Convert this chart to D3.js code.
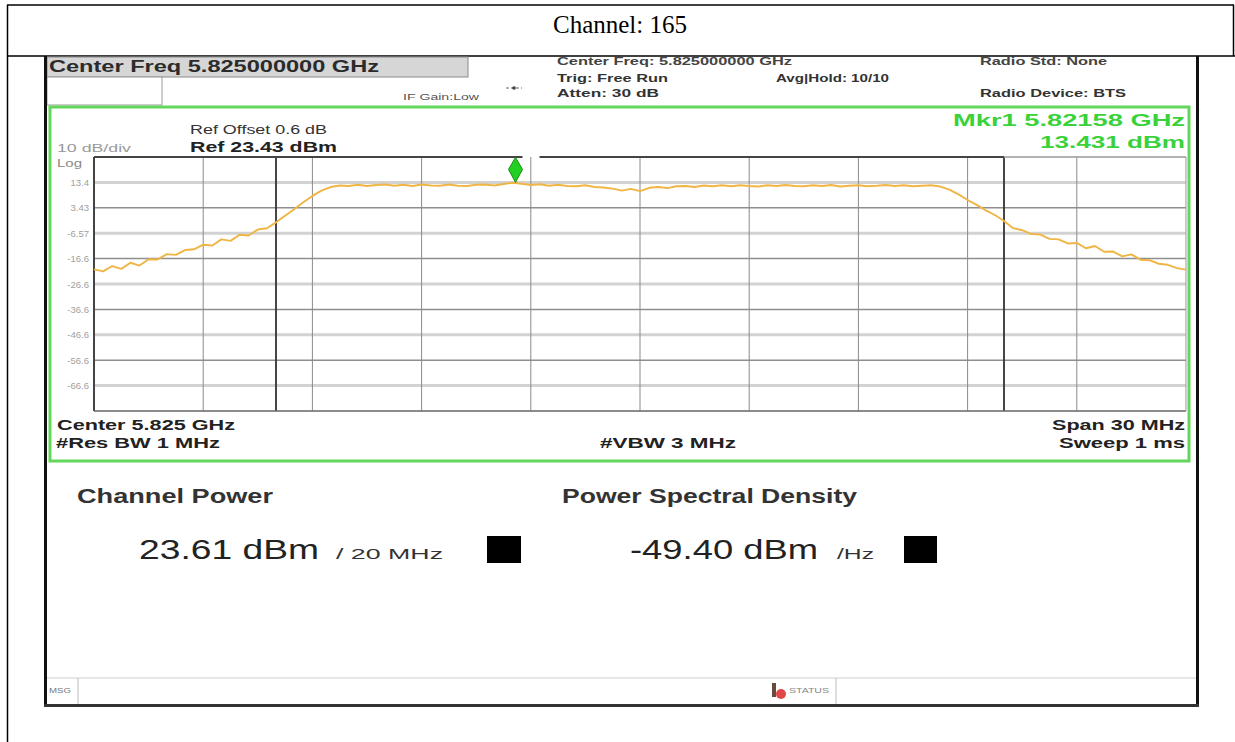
<!DOCTYPE html>
<html>
<head>
<meta charset="utf-8">
<script src="https://cdn.jsdelivr.net/npm/d3@7"></script>
<style>
  body { margin: 0; background: #fff; }
  svg { display: block; }
  .scr text { font-family: "Liberation Sans", Arial, sans-serif; }
</style>
</head>
<body>
<script>
// Spectrum sweep, channel 165 (offset MHz from 5.810 GHz start, level dBm)
var startFreqGHz = 5.810;
var stopFreqGHz = 5.840;

var traceOffsetMHz = [
  0, 0.25, 0.5, 0.75, 1, 1.25, 1.5, 1.75, 2, 2.25, 2.5, 2.75, 3, 3.25, 3.5, 3.75,
  4, 4.25, 4.5, 4.75, 5, 5.25, 5.5, 5.75, 6, 6.25, 6.5, 6.75, 7, 7.25, 7.5, 7.75,
  8, 8.25, 8.5, 8.75, 9, 9.25, 9.5, 9.75, 10, 10.25, 10.5, 10.75, 11, 11.25, 11.5, 11.75,
  12, 12.25, 12.5, 12.75, 13, 13.25, 13.5, 13.75, 14, 14.25, 14.5, 14.75, 15, 15.25, 15.5, 15.75,
  16, 16.25, 16.5, 16.75, 17, 17.25, 17.5, 17.75, 18, 18.25, 18.5, 18.75, 19, 19.25, 19.5, 19.75,
  20, 20.25, 20.5, 20.75, 21, 21.25, 21.5, 21.75, 22, 22.25, 22.5, 22.75, 23, 23.25, 23.5, 23.75,
  24, 24.25, 24.5, 24.75, 25, 25.25, 25.5, 25.75, 26, 26.25, 26.5, 26.75, 27, 27.25, 27.5, 27.75,
  28, 28.25, 28.5, 28.75, 29, 29.25, 29.5, 29.75, 30
];

var traceDbm = [
  -20.8, -21.6, -19.5, -20.6, -18.2, -19.3, -16.8, -16.9, -14.8, -15.1, -13.2, -12.9, -11.1, -11.4, -9.0, -9.6,
  -7.2, -7.5, -5.1, -4.6, -2.3, 0.3, 2.9, 5.6, 8.1, 10.2, 11.6, 12.2, 12.0, 12.5, 12.0, 12.4,
  12.6, 12.1, 12.5, 12.0, 12.6, 12.2, 12.1, 12.6, 12.1, 12.0, 12.5, 12.6, 12.2, 12.8, 13.3, 12.9,
  12.4, 12.7, 12.1, 12.5, 12.0, 11.9, 12.3, 11.6, 11.4, 11.0, 10.2, 10.9, 10.0, 11.3, 11.6, 11.2,
  11.9, 12.0, 11.6, 12.2, 11.9, 12.3, 11.9, 12.3, 12.0, 11.8, 12.3, 12.0, 12.4, 12.0, 11.9, 12.3,
  12.0, 12.4, 11.8, 12.1, 12.3, 11.9, 12.1, 12.4, 12.0, 12.3, 11.9, 12.1, 12.3, 11.8, 10.6, 8.7,
  6.5, 4.6, 2.4, 0.6, -1.8, -4.6, -5.4, -6.9, -7.1, -8.8, -9.0, -10.6, -10.4, -12.5, -11.6, -13.9,
  -13.8, -15.7, -14.9, -17.0, -17.2, -18.6, -19.0, -20.3, -20.9
];

var refLevel = 23.43;
var dbPerDiv = 10;
var yTickLabels = ["13.4", "3.43", "-6.57", "-16.6", "-26.6", "-36.6", "-46.6", "-56.6", "-66.6"];
var markerFreqGHz = 5.82158;
var markerDbm = 13.431;
var integBandGHz = [5.815, 5.835];

var W = 1235, H = 742;
var plot = {left: 94, right: 1186, top: 157, bottom: 411};

var svg = d3.select("body").append("svg")
    .attr("width", W)
    .attr("height", H);

// document table frame
svg.append("rect").attr("width", W).attr("height", H).attr("fill", "#fff");
var frame = svg.append("g").attr("stroke", "#000").attr("stroke-width", 1.5);
frame.append("line").attr("x1", 7).attr("x2", 1234).attr("y1", 5).attr("y2", 5);
frame.append("line").attr("x1", 7).attr("x2", W).attr("y1", 56).attr("y2", 56);
frame.append("line").attr("x1", 7.5).attr("x2", 7.5).attr("y1", 5).attr("y2", H);
frame.append("line").attr("x1", 1233.5).attr("x2", 1233.5).attr("y1", 5).attr("y2", 56);

svg.append("text")
    .attr("x", 620).attr("y", 33)
    .attr("text-anchor", "middle")
    .style("font-family", "'Liberation Serif', 'Times New Roman', serif")
    .style("font-size", "25px")
    .text("Channel: 165");

// analyzer screenshot
var scr = svg.append("g").attr("class", "scr");

function label(s, x, y, size, opts) {
    opts = opts || {};
    var t = scr.append("text")
        .attr("x", x).attr("y", y)
        .attr("text-anchor", opts.anchor || "start")
        .style("font-size", size + "px")
        .style("font-weight", opts.bold ? "bold" : "normal")
        .attr("fill", opts.color || "#222")
        .text(s);
    if (opts.len) t.attr("textLength", opts.len).attr("lengthAdjust", "spacingAndGlyphs");
    return t;
}

// header bar
scr.append("rect").attr("x", 47).attr("y", 57).attr("width", 421).attr("height", 20)
    .attr("fill", "#d6d6d6").attr("stroke", "#8a8a8a").attr("stroke-width", 1);
label("Center Freq 5.825000000 GHz", 49, 72, 16, {bold: true, color: "#2b2b2b", len: 330});
scr.append("rect").attr("x", 47).attr("y", 77).attr("width", 115).attr("height", 28)
    .attr("fill", "#fff").attr("stroke", "#9a9a9a").attr("stroke-width", 1);
label("IF Gain:Low", 403, 100, 9, {color: "#555", len: 76});
scr.append("line").attr("x1", 506).attr("x2", 522).attr("y1", 88).attr("y2", 88)
    .attr("stroke", "#666").attr("stroke-width", 1).attr("stroke-dasharray", "3,2");
scr.append("circle").attr("cx", 514).attr("cy", 88).attr("r", 1.8).attr("fill", "#444");

label("Center Freq: 5.825000000 GHz", 557, 65, 10.5, {bold: true, color: "#444", len: 235});
label("Trig: Free Run", 557, 82, 11, {bold: true, color: "#333", len: 111});
label("Atten: 30 dB", 557, 97, 11, {bold: true, color: "#333", len: 102});
label("Avg|Hold: 10/10", 776, 82, 11, {bold: true, color: "#333", len: 113});
label("Radio Std: None", 980, 65, 11, {bold: true, color: "#444", len: 127});
label("Radio Device: BTS", 980, 97, 11, {bold: true, color: "#333", len: 146});

// green measurement window
scr.append("rect").attr("x", 50).attr("y", 107).attr("width", 1139).attr("height", 354)
    .attr("fill", "none").attr("stroke", "#62d85a").attr("stroke-width", 3);

label("10 dB/div", 57, 152, 10, {color: "#999", len: 74});
label("Log", 57, 167, 11, {color: "#888", len: 25});
label("Ref Offset 0.6 dB", 190, 134, 12, {color: "#333", len: 137});
label("Ref 23.43 dBm", 190, 152, 14, {bold: true, color: "#222", len: 147});
label("Mkr1  5.82158 GHz", 1185, 126, 17, {bold: true, color: "#3ad23a", anchor: "end", len: 232});
label("13.431 dBm", 1185, 148, 17, {bold: true, color: "#3ad23a", anchor: "end", len: 145});

// scales
var x = d3.scaleLinear().domain([startFreqGHz, stopFreqGHz]).range([plot.left, plot.right]);
var y = d3.scaleLinear().domain([refLevel - 10 * dbPerDiv, refLevel]).range([plot.bottom, plot.top]);

var hLevels = d3.range(1, 10).map(function(k) { return refLevel - k * dbPerDiv; });
var vFreqs = d3.range(1, 10).map(function(k) { return startFreqGHz + k * (stopFreqGHz - startFreqGHz) / 10; });

// graticule
scr.append("g").selectAll("line")
    .data(hLevels)
    .enter().append("line")
    .attr("x1", plot.left).attr("x2", plot.right)
    .attr("y1", d => y(d)).attr("y2", d => y(d))
    .attr("stroke", (d, i) => i % 2 === 0 ? "#d2d2d2" : "#8e8e8e")
    .attr("stroke-width", (d, i) => i % 2 === 0 ? 3 : 1.5);

scr.append("g").selectAll("line")
    .data(vFreqs)
    .enter().append("line")
    .attr("x1", d => x(d)).attr("x2", d => x(d))
    .attr("y1", plot.top).attr("y2", plot.bottom)
    .attr("stroke", "#8a8a8a").attr("stroke-width", 1);

// integration bandwidth lines
scr.append("g").selectAll("line")
    .data(integBandGHz)
    .enter().append("line")
    .attr("x1", d => x(d)).attr("x2", d => x(d))
    .attr("y1", plot.top).attr("y2", plot.bottom)
    .attr("stroke", "#333").attr("stroke-width", 1.8);

// plot border
var mx = x(markerFreqGHz);
scr.append("line").attr("x1", plot.left).attr("x2", mx + 7).attr("y1", plot.top).attr("y2", plot.top)
    .attr("stroke", "#444").attr("stroke-width", 2);
scr.append("line").attr("x1", mx + 24).attr("x2", x(integBandGHz[1])).attr("y1", plot.top).attr("y2", plot.top)
    .attr("stroke", "#444").attr("stroke-width", 2);
scr.append("line").attr("x1", x(integBandGHz[1])).attr("x2", plot.right).attr("y1", plot.top).attr("y2", plot.top)
    .attr("stroke", "#999").attr("stroke-width", 1.5);
scr.append("line").attr("x1", plot.left).attr("x2", plot.left).attr("y1", plot.top).attr("y2", plot.bottom)
    .attr("stroke", "#444").attr("stroke-width", 2);
scr.append("line").attr("x1", plot.left).attr("x2", plot.right).attr("y1", plot.bottom).attr("y2", plot.bottom)
    .attr("stroke", "#666").attr("stroke-width", 1.5);
scr.append("line").attr("x1", plot.right).attr("x2", plot.right).attr("y1", plot.top).attr("y2", plot.bottom)
    .attr("stroke", "#999").attr("stroke-width", 1);

// y tick labels
var yAxis = scr.append("g")
    .attr("transform", "translate(" + (plot.left - 5) + ",0)")
    .call(d3.axisLeft(y).tickValues(hLevels).tickSize(0).tickPadding(0)
        .tickFormat((d, i) => yTickLabels[i]));
yAxis.select(".domain").remove();
yAxis.selectAll("text")
    .style("font-family", "'Liberation Sans', Arial, sans-serif")
    .style("font-size", "9.5px")
    .attr("fill", "#a0a0a0");

// trace
var traceData = traceOffsetMHz.map((o, i) => ({f: startFreqGHz + o / 1000, v: traceDbm[i]}));
var line = d3.line()
    .x(d => x(d.f))
    .y(d => y(d.v));

scr.append("path")
    .datum(traceData)
    .attr("d", line)
    .attr("fill", "none")
    .attr("stroke", "#f0b545")
    .attr("stroke-width", 1.9)
    .attr("stroke-linejoin", "round");

// marker diamond
var my = y(markerDbm);
scr.append("path")
    .attr("d", "M" + mx + "," + my + " L" + (mx - 7) + "," + (my - 13) + " L" + mx + "," + (my - 25) +
        " L" + (mx + 7) + "," + (my - 13) + "Z")
    .attr("fill", "#22d022").attr("stroke", "#139013").attr("stroke-width", 1);

// window footer
label("Center  5.825 GHz", 57, 430, 14, {bold: true, color: "#222", len: 178});
label("#Res BW  1 MHz", 56, 448, 14, {bold: true, color: "#222", len: 164});
label("#VBW  3 MHz", 600, 448, 14, {bold: true, color: "#222", len: 136});
label("Span 30 MHz", 1185, 430, 14, {bold: true, color: "#222", anchor: "end", len: 133});
label("Sweep  1 ms", 1185, 448, 14, {bold: true, color: "#222", anchor: "end", len: 126});

// channel power results
label("Channel Power", 77, 503, 20, {bold: true, color: "#333", len: 196});
label("23.61 dBm", 139, 559, 27, {color: "#222", len: 180});
label("/ 20 MHz", 336, 559, 15, {color: "#333", len: 107});
scr.append("rect").attr("x", 487).attr("y", 536).attr("width", 34).attr("height", 27).attr("fill", "#000");

label("Power Spectral Density", 562, 503, 20, {bold: true, color: "#333", len: 295});
label("-49.40 dBm", 630, 559, 27, {color: "#222", len: 188});
label("/Hz", 837, 559, 15, {color: "#333", len: 37});
scr.append("rect").attr("x", 904).attr("y", 536).attr("width", 33).attr("height", 27).attr("fill", "#000");

// status bar
scr.append("line").attr("x1", 46).attr("x2", 1196).attr("y1", 678).attr("y2", 678)
    .attr("stroke", "#d0d0d0").attr("stroke-width", 1);
scr.append("line").attr("x1", 78).attr("x2", 78).attr("y1", 678).attr("y2", 704)
    .attr("stroke", "#bbb").attr("stroke-width", 1);
scr.append("line").attr("x1", 836).attr("x2", 836).attr("y1", 678).attr("y2", 704)
    .attr("stroke", "#bbb").attr("stroke-width", 1);
label("MSG", 49, 693, 8, {color: "#777", len: 22});
scr.append("rect").attr("x", 772).attr("y", 683).attr("width", 4).attr("height", 14).attr("fill", "#6a4a3a");
scr.append("circle").attr("cx", 781).attr("cy", 694).attr("r", 5).attr("fill", "#e04848");
label("STATUS", 789, 693, 8, {color: "#888", len: 40});

// screenshot border
scr.append("line").attr("x1", 45.5).attr("x2", 45.5).attr("y1", 56).attr("y2", 707)
    .attr("stroke", "#111").attr("stroke-width", 3);
scr.append("line").attr("x1", 1197.5).attr("x2", 1197.5).attr("y1", 56).attr("y2", 707)
    .attr("stroke", "#111").attr("stroke-width", 3);
scr.append("line").attr("x1", 44).attr("x2", 1199).attr("y1", 705.5).attr("y2", 705.5)
    .attr("stroke", "#333").attr("stroke-width", 3);
</script>
</body>
</html>
